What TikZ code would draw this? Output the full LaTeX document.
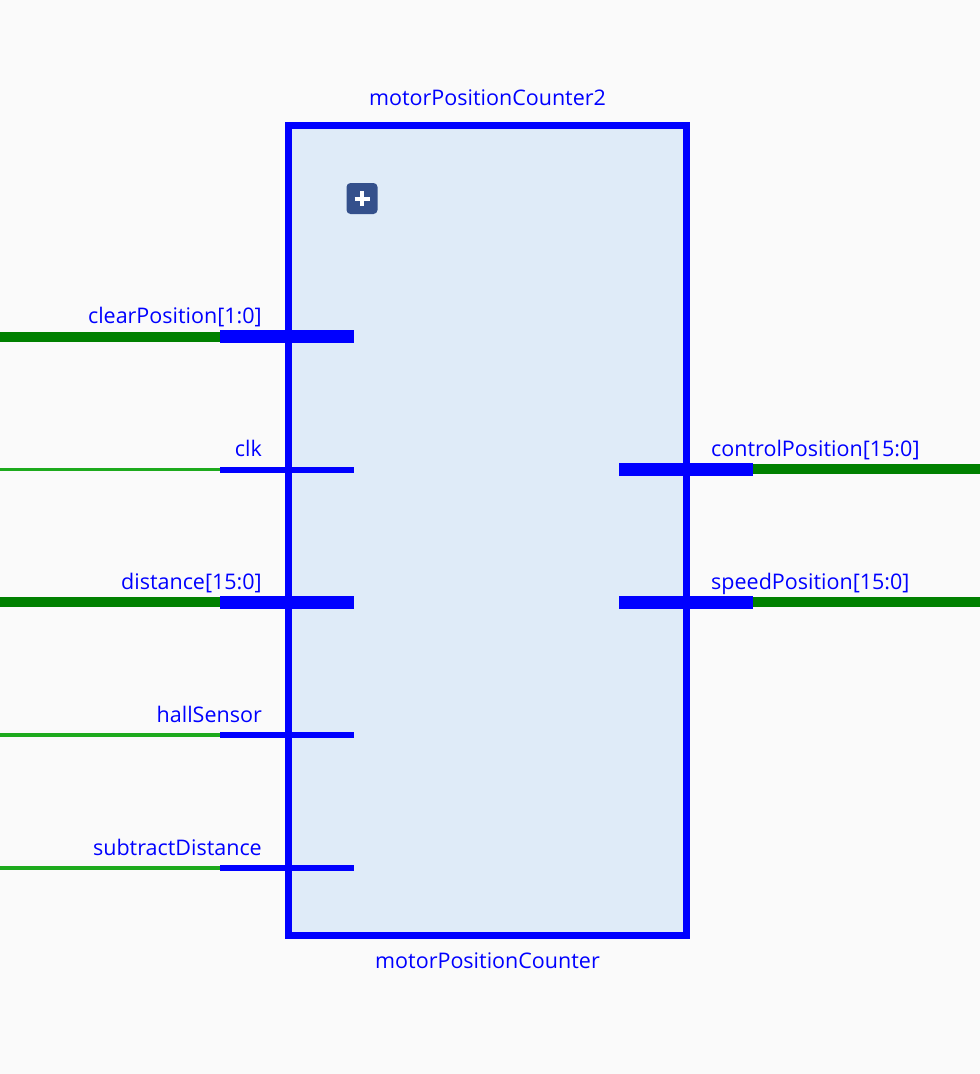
\documentclass[tikz,border=0pt]{standalone}
\usepackage{fontspec}
\setmainfont{Open Sans}
\usetikzlibrary{calc}
\begin{document}
\begin{tikzpicture}[x=1pt,y=-1pt,
  pinblue/.style={draw=blue, line width=6pt},
  busblue/.style={draw=blue, line width=13pt},
  wirethin/.style={draw=wiregreen, line width=3.5pt},
  wirebus/.style={draw=busgreen, line width=10pt},
  lbl/.style={text=blue, font=\fontsize{21.5}{24}\selectfont, inner sep=0pt},
  lblL/.style={lbl, anchor=base east},
  lblR/.style={lbl, anchor=base west}]
\definecolor{bg}{HTML}{FAFAFA}
\definecolor{boxfill}{HTML}{DFEBF8}
\definecolor{wiregreen}{HTML}{1DAA1D}
\definecolor{busgreen}{HTML}{008000}
\definecolor{plusfill}{HTML}{34508C}
\fill[bg] (0,0) rectangle (980,1074);
\useasboundingbox (0,0) rectangle (980,1074);
% block
\node[draw=blue, fill=boxfill, line width=7pt, outer sep=0pt, minimum width=398pt, minimum height=810pt, inner sep=0pt, anchor=north west] (blk) at (288.5,125) {};
\node[lbl, anchor=base] (inst) at (487.5,105) {motorPositionCounter2};
\node[lbl, anchor=base] (mod) at (487.5,968) {motorPositionCounter};
% plus icon
\node[fill=plusfill, rounded corners=4pt, minimum width=31pt, minimum height=31pt, inner sep=0pt] (plus) at (362,198.5) {};
\draw[white, line width=4pt] ($(plus.center)+(-7.5,0)$) -- ($(plus.center)+(7.5,0)$);
\draw[white, line width=4pt] ($(plus.center)+(0,-7.5)$) -- ($(plus.center)+(0,7.5)$);
% left pin coordinates
\foreach \n/\y in {cp/336.5, ck/469.5, di/602, hs/735, sd/868}{
  \coordinate (\n w) at (0,\y);
  \coordinate (\n a) at (220,\y);
  \coordinate (\n b) at (354,\y);
}
\foreach \n/\y in {ctl/469, spd/602}{
  \coordinate (\n a) at (619,\y);
  \coordinate (\n b) at (753,\y);
  \coordinate (\n w) at (980,\y);
}
% wires
\draw[wirebus] (cpw) -- (cpa);
\draw[wirethin] (ckw) -- (cka);
\draw[wirebus] (diw) -- (dia);
\draw[wirethin] (hsw) -- (hsa);
\draw[wirethin] (sdw) -- (sda);
\draw[wirebus] (ctlb) -- (ctlw);
\draw[wirebus] (spdb) -- (spdw);
% pins
\draw[busblue] (cpa) -- (cpb);
\draw[pinblue] (cka) -- (ckb);
\draw[busblue] (dia) -- (dib);
\draw[pinblue] (hsa) -- (hsb);
\draw[pinblue] (sda) -- (sdb);
\draw[busblue] (ctla) -- (ctlb);
\draw[busblue] (spda) -- (spdb);
% labels
\node[lblL] (lcp) at (262,323) {clearPosition[1:0]};
\node[lblL] (lck) at (262,456) {clk};
\node[lblL] (ldi) at (262,589) {distance[15:0]};
\node[lblL] (lhs) at (262,722) {hallSensor};
\node[lblL] (lsd) at (262,855) {subtractDistance};
\node[lblR] (lctl) at (711,456) {controlPosition[15:0]};
\node[lblR] (lspd) at (711,589) {speedPosition[15:0]};
\end{tikzpicture}
\end{document}
